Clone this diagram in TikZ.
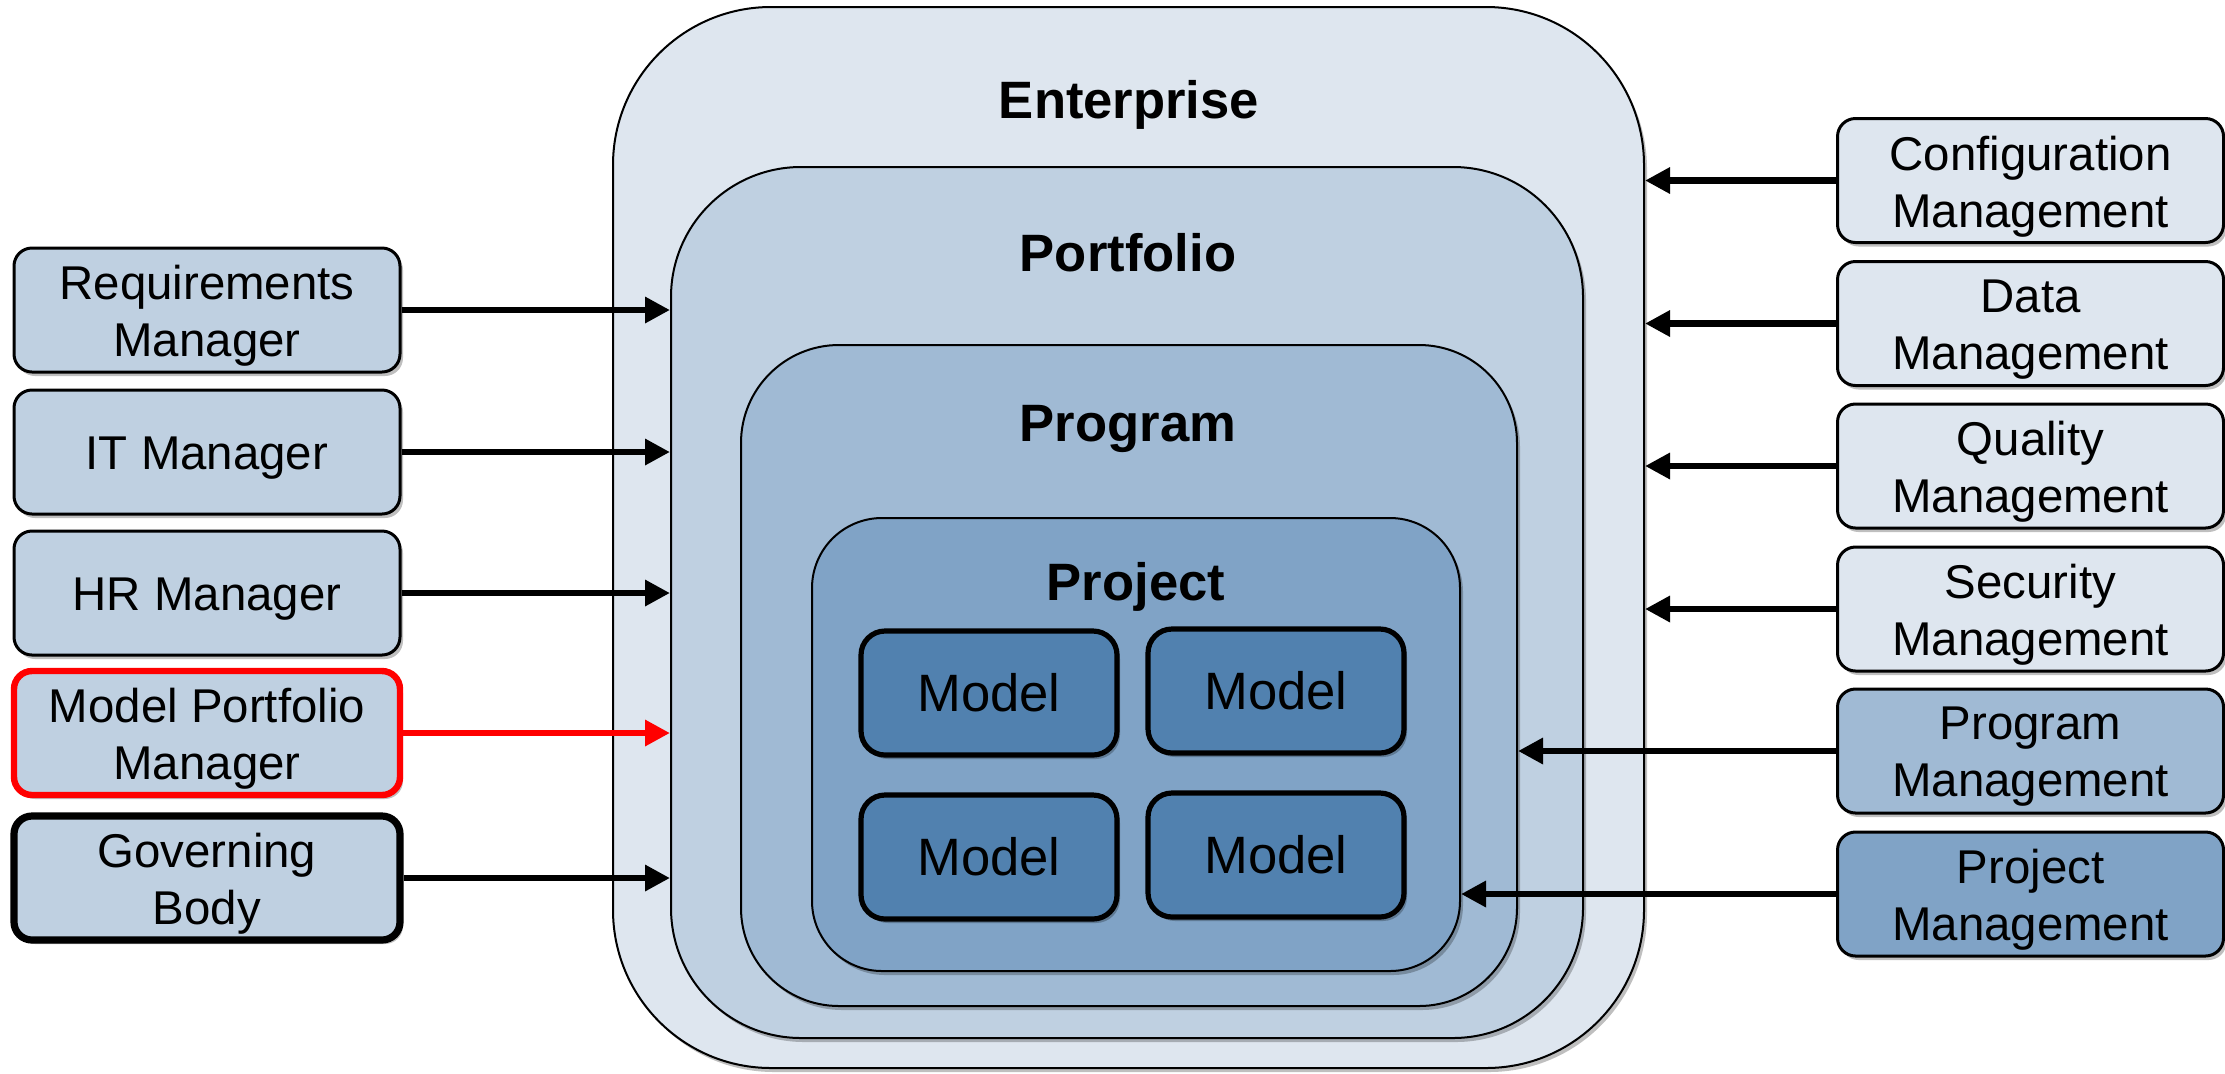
\documentclass[tikz,border=0pt]{standalone}
\usepackage{fontspec}
\setmainfont{Liberation Sans}
\usetikzlibrary{arrows.meta,shadows}
\definecolor{entC}{HTML}{DEE6EF}
\definecolor{portC}{HTML}{BFD0E1}
\definecolor{progC}{HTML}{A0BAD4}
\definecolor{projC}{HTML}{80A3C6}
\definecolor{modelC}{HTML}{5181AF}
\definecolor{redC}{HTML}{FF0000}
\begin{document}
\begin{tikzpicture}[x=0.5pt,y=-0.5pt,
  shad/.style={drop shadow={shadow xshift=1.5pt,shadow yshift=-2pt,opacity=0.25,fill=black}},
  cont/.style={draw=black,line width=1pt,inner sep=0pt,shad},
  ttl/.style={font=\fontsize{26.3}{30}\selectfont\bfseries,anchor=base,inner sep=0pt},
  lbl/.style={align=center,inner sep=0pt,yshift=-3pt,font=\fontsize{23.7}{28.5}\selectfont},
  sbox/.style={draw=black,line width=1.5pt,rounded corners=9pt,minimum width=193pt,
    minimum height=62pt,inner sep=0pt,shad,label={[lbl]center:#1}},
  modelbox/.style={draw=black,line width=2.6pt,rounded corners=12pt,fill=modelC,
    minimum width=128pt,minimum height=62pt,inner sep=0pt,
    font=\fontsize{26.3}{30}\selectfont,shad},
  arr/.style={line width=3.2pt,-{Triangle[length=12.5pt,width=12.5pt]}},
]
\useasboundingbox (0,0) rectangle (2225,1073);

% nested containers
\node[cont,fill=entC,minimum width=515.5pt,minimum height=530.5pt,rounded corners=79pt]
  (ent) at (1128.5,537.5) {};
\node[cont,fill=portC,minimum width=456pt,minimum height=435.5pt,rounded corners=65pt]
  (port) at (1127,602.5) {};
\node[cont,fill=progC,minimum width=388pt,minimum height=330.5pt,rounded corners=49pt]
  (prog) at (1129,675.5) {};
\node[cont,fill=projC,minimum width=324pt,minimum height=226.5pt,rounded corners=35pt]
  (proj) at (1136,744.5) {};

% titles
\node[ttl] (tEnt)  at (1129,118) {Enterprise};
\node[ttl] (tPort) at (1128,271) {Portfolio};
\node[ttl] (tProg) at (1128,441) {Program};
\node[ttl] (tProj) at (1136,600) {Project};

% models
\node[modelbox] (m1) at (989,693)  {\raisebox{-2pt}{Model}};
\node[modelbox] (m2) at (1276,691) {\raisebox{-2pt}{Model}};
\node[modelbox] (m3) at (989,857)  {\raisebox{-2pt}{Model}};
\node[modelbox] (m4) at (1276,855) {\raisebox{-2pt}{Model}};

% left boxes
\node[sbox={Requirements\\Manager},fill=portC] (req) at (207,310) {};
\node[sbox={IT Manager},fill=portC] (itm) at (207,452) {};
\node[sbox={HR Manager},fill=portC] (hrm) at (207,593) {};
\node[sbox={Model Portfolio\\Manager},fill=portC,draw=redC,line width=3.2pt] (mpm) at (207,733) {};
\node[sbox={Governing\\Body},fill=portC,line width=3.6pt] (gov) at (207,878) {};

% right boxes
\node[sbox={Configuration\\Management},fill=entC] (cfg) at (2030.5,180.5) {};
\node[sbox={Data\\Management},fill=entC] (dat) at (2030.5,323.5) {};
\node[sbox={Quality\\Management},fill=entC] (qua) at (2030.5,466) {};
\node[sbox={Security\\Management},fill=entC] (sec) at (2030.5,609) {};
\node[sbox={Program\\Management},fill=progC] (pgm) at (2030.5,751) {};
\node[sbox={Project\\Management},fill=projC] (pjm) at (2030.5,894) {};

% arrows
\draw[arr] (req.east) -- (req.east -| port.west);
\draw[arr] (itm.east) -- (itm.east -| port.west);
\draw[arr] (hrm.east) -- (hrm.east -| port.west);
\draw[arr,draw=redC,fill=redC] (mpm.east) -- (mpm.east -| port.west);
\draw[arr] (gov.east) -- (gov.east -| port.west);

\draw[arr] (cfg.west) -- (cfg.west -| ent.east);
\draw[arr] (dat.west) -- (dat.west -| ent.east);
\draw[arr] (qua.west) -- (qua.west -| ent.east);
\draw[arr] (sec.west) -- (sec.west -| ent.east);
\draw[arr] (pgm.west) -- (pgm.west -| prog.east);
\draw[arr] (pjm.west) -- (pjm.west -| proj.east);
\end{tikzpicture}
\end{document}
